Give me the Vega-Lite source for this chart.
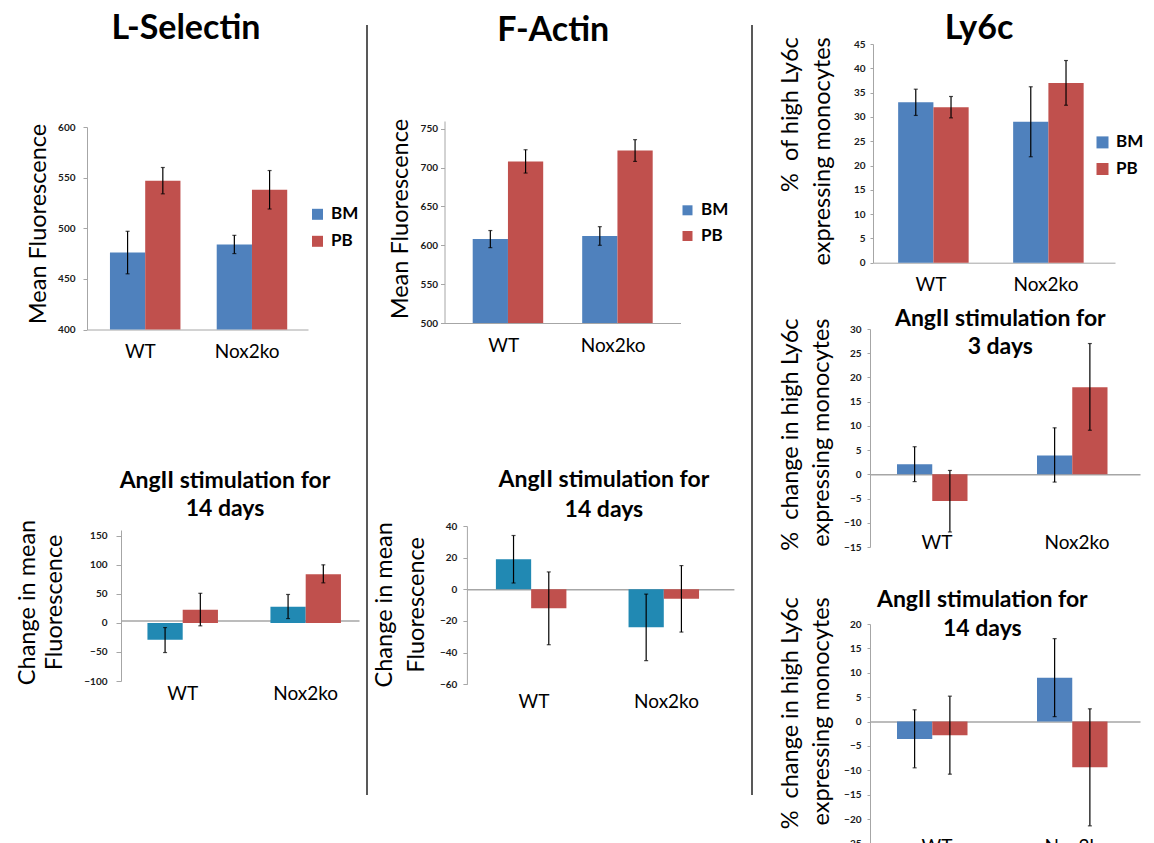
{
  "$schema": "https://vega.github.io/schema/vega-lite/v6.json",
  "background": "white",
  "padding": 0,
  "autosize": {"type": "pad"},
  "datasets": {
    "ls_top": [
      {"g": "WT", "s": "BM", "v": 476, "lo": 455, "hi": 497},
      {"g": "WT", "s": "PB", "v": 547, "lo": 534, "hi": 560},
      {"g": "Nox2ko", "s": "BM", "v": 484, "lo": 475, "hi": 493},
      {"g": "Nox2ko", "s": "PB", "v": 538, "lo": 519, "hi": 557}
    ],
    "fa_top": [
      {"g": "WT", "s": "BM", "v": 608, "lo": 597, "hi": 619},
      {"g": "WT", "s": "PB", "v": 708, "lo": 693, "hi": 723},
      {"g": "Nox2ko", "s": "BM", "v": 612, "lo": 600, "hi": 624},
      {"g": "Nox2ko", "s": "PB", "v": 722, "lo": 708, "hi": 736}
    ],
    "ly_top": [
      {"g": "WT", "s": "BM", "v": 33, "lo": 30.3, "hi": 35.7},
      {"g": "WT", "s": "PB", "v": 32, "lo": 29.8, "hi": 34.2},
      {"g": "Nox2ko", "s": "BM", "v": 29, "lo": 21.8, "hi": 36.2},
      {"g": "Nox2ko", "s": "PB", "v": 37, "lo": 32.4, "hi": 41.6}
    ],
    "ls_bot": [
      {"g": "WT", "s": "BM", "v": -29, "lo": -51, "hi": -8},
      {"g": "WT", "s": "PB", "v": 22.5, "lo": -5, "hi": 51},
      {"g": "Nox2ko", "s": "BM", "v": 28, "lo": 7.5, "hi": 49},
      {"g": "Nox2ko", "s": "PB", "v": 84, "lo": 69, "hi": 100}
    ],
    "fa_bot": [
      {"g": "WT", "s": "BM", "v": 19, "lo": 4, "hi": 34},
      {"g": "WT", "s": "PB", "v": -12, "lo": -35, "hi": 11},
      {"g": "Nox2ko", "s": "BM", "v": -24, "lo": -45, "hi": -3},
      {"g": "Nox2ko", "s": "PB", "v": -6, "lo": -27, "hi": 15}
    ],
    "ly_3d": [
      {"g": "WT", "s": "BM", "v": 2.1, "lo": -1.5, "hi": 5.7},
      {"g": "WT", "s": "PB", "v": -5.5, "lo": -11.9, "hi": 0.8},
      {"g": "Nox2ko", "s": "BM", "v": 3.9, "lo": -1.6, "hi": 9.6},
      {"g": "Nox2ko", "s": "PB", "v": 18, "lo": 9.1, "hi": 27}
    ],
    "ly_14d": [
      {"g": "WT", "s": "BM", "v": -3.6, "lo": -9.5, "hi": 2.4},
      {"g": "WT", "s": "PB", "v": -2.8, "lo": -10.8, "hi": 5.2},
      {"g": "Nox2ko", "s": "BM", "v": 9, "lo": 1, "hi": 17},
      {"g": "Nox2ko", "s": "PB", "v": -9.4, "lo": -21.4, "hi": 2.6}
    ],
    "sep": [{"p": 0.5, "a": 0, "b": 1}],
    "none": []
  },
  "config": {
    "view": {"stroke": null},
    "font": "Lato",
    "axis": {"grid": false, "labelOverlap": false, "labelFlush": false, "domainColor": "#A6A6A6", "tickColor": "#A6A6A6", "labelFont": "Lato", "titleFont": "Lato", "labelColor": "#1a1a1a", "titleColor": "#000000", "titleFontWeight": "normal", "titleFontSize": 23.5, "titleBaseline": "alphabetic"},
    "axisY": {"labelFontSize": 10, "labelFontWeight": "bold", "tickSize": 4},
    "axisX": {"labelFontSize": 19, "labelAngle": 0, "ticks": false, "tickSize": 0, "labelBaseline": "top", "labelColor": "#000000"},
    "title": {"font": "Lato", "fontWeight": "bold", "color": "#000000", "anchor": "middle", "frame": "group", "baseline": "alphabetic"},
    "legend": {"symbolType": "square", "labelFontSize": 17, "labelFontWeight": "bold", "labelFont": "Lato", "labelColor": "#000000", "symbolStrokeWidth": 0, "padding": 0, "labelOffset": 5}
  },
  "resolve": {"scale": {"color": "independent"}, "legend": {"color": "independent"}},
  "spacing": 0,
  "hconcat": [
    {"width": 14.7, "height": 1, "data": {"name": "none"}, "mark": "point"},
    {
      "vconcat": [
        {"width": 1, "height": 126.5, "data": {"name": "none"}, "mark": "point"},
        {
          "width": 221, "height": 202.5,
          "title": {"text": "L-Selectin", "fontSize": 34, "dx": -11.5, "offset": 76},
          "data": {"name": "ls_top"},
          "encoding": {
            "x": {"field": "g", "type": "nominal", "sort": ["WT", "Nox2ko"], "title": null, "scale": {"paddingInner": 0.43, "paddingOuter": 0.25, "align": 0.43}, "axis": {"labelPadding": 13}},
            "xOffset": {"field": "s", "type": "nominal", "sort": ["BM", "PB"]}
          },
          "layer": [
            {"mark": {"type": "bar"}, "encoding": {
              "y": {"field": "v", "type": "quantitative", "scale": {"domain": [400, 600]}, "title": "Mean Fluorescence", "axis": {"values": [400, 450, 500, 550, 600], "labelPadding": 8, "titleX": -42, "titleY": 96.5}},
              "y2": {"datum": 400},
              "color": {"field": "s", "type": "nominal", "scale": {"domain": ["BM", "PB"], "range": ["#4F81BD", "#C0504D"]}, "legend": {"orient": "none", "legendX": 222, "legendY": 78.8, "title": null, "symbolSize": 121, "rowPadding": 9}}
            }},
            {"mark": {"type": "rule", "color": "#000000", "strokeWidth": 1.2}, "encoding": {"y": {"field": "lo", "type": "quantitative", "title": "Mean Fluorescence", "axis": {"values": [400, 450, 500, 550, 600]}}, "y2": {"field": "hi"}}},
            {"mark": {"type": "tick", "color": "#000000", "size": 4, "thickness": 1.2}, "encoding": {"y": {"field": "lo", "type": "quantitative", "title": "Mean Fluorescence", "axis": {"values": [400, 450, 500, 550, 600]}}}},
            {"mark": {"type": "tick", "color": "#000000", "size": 4, "thickness": 1.2}, "encoding": {"y": {"field": "hi", "type": "quantitative", "title": "Mean Fluorescence", "axis": {"values": [400, 450, 500, 550, 600]}}}}
          ]
        },
        {"width": 1, "height": 200, "data": {"name": "none"}, "mark": "point"},
        {
          "width": 323, "height": 151,
          "title": {"text": ["AngII stimulation for", "14 days"], "fontSize": 23, "lineHeight": 28.3, "dx": 27.5, "offset": -1.8},
          "data": {"name": "ls_bot"},
          "encoding": {
            "x": {"field": "g", "type": "nominal", "sort": ["WT", "Nox2ko"], "title": null, "scale": {"range": [85, 323], "paddingInner": 0.427, "paddingOuter": 0.181, "align": 0.594}, "axis": {"offset": -60.4, "labelPadding": 63.4, "domainWidth": 1.5}},
            "xOffset": {"field": "s", "type": "nominal", "sort": ["BM", "PB"], "scale": {"range": [0, 70.5]}}
          },
          "layer": [
            {"mark": {"type": "bar"}, "encoding": {
              "y": {"field": "v", "type": "quantitative", "scale": {"domain": [-100, 150]}, "title": ["Change in mean", "Fluorescence"], "axis": {"offset": -85, "values": [-100, -50, 0, 50, 100, 150], "labelPadding": 9, "tickSize": 5, "titleX": -86.7, "titleY": 72, "titleLineHeight": 27, "titleAlign": "center"}},
              "color": {"field": "s", "type": "nominal", "scale": {"domain": ["BM", "PB"], "range": ["#2189B3", "#C0504D"]}, "legend": null}
            }},
            {"mark": {"type": "rule", "color": "#000000", "strokeWidth": 1.2}, "encoding": {"y": {"field": "lo", "type": "quantitative", "title": ["Change in mean", "Fluorescence"], "axis": {"values": [-100, -50, 0, 50, 100, 150]}}, "y2": {"field": "hi"}}},
            {"mark": {"type": "tick", "color": "#000000", "size": 4, "thickness": 1.2}, "encoding": {"y": {"field": "lo", "type": "quantitative", "title": ["Change in mean", "Fluorescence"], "axis": {"values": [-100, -50, 0, 50, 100, 150]}}}},
            {"mark": {"type": "tick", "color": "#000000", "size": 4, "thickness": 1.2}, "encoding": {"y": {"field": "hi", "type": "quantitative", "title": ["Change in mean", "Fluorescence"], "axis": {"values": [-100, -50, 0, 50, 100, 150]}}}}
          ]
        }
      ],
      "spacing": 0,
      "bounds": "flush",
      "center": true,
      "resolve": {"scale": {"color": "independent"}, "legend": {"color": "independent"}}
    },
    {"width": 6.3, "height": 1, "data": {"name": "none"}, "mark": "point"},
    {
      "vconcat": [
        {"width": 1, "height": 25, "data": {"name": "none"}, "mark": "point"},
        {"width": 2, "height": 770, "data": {"name": "sep"}, "mark": {"type": "rule", "color": "#222222", "strokeWidth": 1.5},
         "encoding": {"x": {"field": "p", "type": "quantitative", "scale": {"domain": [0, 1]}, "axis": null}, "y": {"field": "a", "type": "quantitative", "scale": {"domain": [0, 1]}, "axis": null}, "y2": {"field": "b"}}}
      ],
      "spacing": 0,
      "bounds": "flush"
    },
    {"width": 3.3, "height": 1, "data": {"name": "none"}, "mark": "point"},
    {
      "vconcat": [
        {"width": 1, "height": 120.7, "data": {"name": "none"}, "mark": "point"},
        {
          "width": 236, "height": 202,
          "title": {"text": "F-Actin", "fontSize": 34, "dx": -9.3, "offset": 70.5},
          "data": {"name": "fa_top"},
          "encoding": {
            "x": {"field": "g", "type": "nominal", "sort": ["WT", "Nox2ko"], "title": null, "scale": {"paddingInner": 0.434, "paddingOuter": 0.2947, "align": 0.437}, "axis": {"labelPadding": 13.6}},
            "xOffset": {"field": "s", "type": "nominal", "sort": ["BM", "PB"]}
          },
          "layer": [
            {"mark": {"type": "bar"}, "encoding": {
              "y": {"field": "v", "type": "quantitative", "scale": {"domain": [500, 750]}, "title": "Mean Fluorescence", "axis": {"values": [500, 550, 600, 650, 700, 750], "labelPadding": 3, "titleX": -37, "titleY": 97.6}},
              "y2": {"datum": 500},
              "color": {"field": "s", "type": "nominal", "scale": {"domain": ["BM", "PB"], "range": ["#4F81BD", "#C0504D"]}, "legend": {"orient": "none", "legendX": 234.5, "legendY": 80.8, "title": null, "symbolSize": 100, "rowPadding": 7.7}}
            }},
            {"mark": {"type": "rule", "color": "#000000", "strokeWidth": 1.2}, "encoding": {"y": {"field": "lo", "type": "quantitative", "title": "Mean Fluorescence", "axis": {"values": [500, 550, 600, 650, 700, 750]}}, "y2": {"field": "hi"}}},
            {"mark": {"type": "tick", "color": "#000000", "size": 4, "thickness": 1.2}, "encoding": {"y": {"field": "lo", "type": "quantitative", "title": "Mean Fluorescence", "axis": {"values": [500, 550, 600, 650, 700, 750]}}}},
            {"mark": {"type": "tick", "color": "#000000", "size": 4, "thickness": 1.2}, "encoding": {"y": {"field": "hi", "type": "quantitative", "title": "Mean Fluorescence", "axis": {"values": [500, 550, 600, 650, 700, 750]}}}}
          ]
        },
        {"width": 1, "height": 203, "data": {"name": "none"}, "mark": "point"},
        {
          "width": 342.8, "height": 158.3,
          "title": {"text": ["AngII stimulation for", "14 days"], "fontSize": 23, "lineHeight": 30, "dx": 41.4, "offset": -0.8},
          "data": {"name": "fa_bot"},
          "encoding": {
            "x": {"field": "g", "type": "nominal", "sort": ["WT", "Nox2ko"], "title": null, "scale": {"range": [75.8, 342.8], "paddingInner": 0.427, "paddingOuter": 0.22, "align": 0.497}, "axis": {"offset": -95, "labelPadding": 103, "domainWidth": 1.5}},
            "xOffset": {"field": "s", "type": "nominal", "sort": ["BM", "PB"], "scale": {"range": [0, 76]}}
          },
          "layer": [
            {"mark": {"type": "bar"}, "encoding": {
              "y": {"field": "v", "type": "quantitative", "scale": {"domain": [-60, 40]}, "title": ["Change in mean", "Fluorescence"], "axis": {"offset": -75.8, "values": [-60, -40, -20, 0, 20, 40], "labelPadding": 6, "titleX": -75, "titleY": 78.3, "titleLineHeight": 32, "titleAlign": "center"}},
              "color": {"field": "s", "type": "nominal", "scale": {"domain": ["BM", "PB"], "range": ["#2189B3", "#C0504D"]}, "legend": null}
            }},
            {"mark": {"type": "rule", "color": "#000000", "strokeWidth": 1.2}, "encoding": {"y": {"field": "lo", "type": "quantitative", "title": ["Change in mean", "Fluorescence"], "axis": {"values": [-60, -40, -20, 0, 20, 40]}}, "y2": {"field": "hi"}}},
            {"mark": {"type": "tick", "color": "#000000", "size": 4, "thickness": 1.2}, "encoding": {"y": {"field": "lo", "type": "quantitative", "title": ["Change in mean", "Fluorescence"], "axis": {"values": [-60, -40, -20, 0, 20, 40]}}}},
            {"mark": {"type": "tick", "color": "#000000", "size": 4, "thickness": 1.2}, "encoding": {"y": {"field": "hi", "type": "quantitative", "title": ["Change in mean", "Fluorescence"], "axis": {"values": [-60, -40, -20, 0, 20, 40]}}}}
          ]
        }
      ],
      "spacing": 0,
      "bounds": "flush",
      "center": true,
      "resolve": {"scale": {"color": "independent"}, "legend": {"color": "independent"}}
    },
    {"width": 17, "height": 1, "data": {"name": "none"}, "mark": "point"},
    {
      "vconcat": [
        {"width": 1, "height": 25, "data": {"name": "none"}, "mark": "point"},
        {"width": 2, "height": 770, "data": {"name": "sep"}, "mark": {"type": "rule", "color": "#222222", "strokeWidth": 1.5},
         "encoding": {"x": {"field": "p", "type": "quantitative", "scale": {"domain": [0, 1]}, "axis": null}, "y": {"field": "a", "type": "quantitative", "scale": {"domain": [0, 1]}, "axis": null}, "y2": {"field": "b"}}}
      ],
      "spacing": 0,
      "bounds": "flush"
    },
    {"width": 23.7, "height": 1, "data": {"name": "none"}, "mark": "point"},
    {
      "vconcat": [
        {"width": 1, "height": 43.3, "data": {"name": "none"}, "mark": "point"},
        {
          "width": 242, "height": 218.7,
          "title": {"text": "Ly6c", "fontSize": 34, "dx": -15, "offset": -9},
          "data": {"name": "ly_top"},
          "encoding": {
            "x": {"field": "g", "type": "nominal", "sort": ["WT", "Nox2ko"], "title": null, "scale": {"paddingInner": 0.429, "paddingOuter": 0.2667, "align": 0.41}, "axis": {"labelPadding": 13}},
            "xOffset": {"field": "s", "type": "nominal", "sort": ["BM", "PB"]}
          },
          "layer": [
            {"mark": {"type": "bar"}, "encoding": {
              "y": {"field": "v", "type": "quantitative", "scale": {"domain": [0, 45]}, "title": ["% \u00a0of high Ly6c", "expressing monocytes"], "axis": {"values": [0, 5, 10, 15, 20, 25, 30, 35, 40, 45], "labelPadding": 5, "tickSize": 3, "titleX": -75.3, "titleY": -7.3, "titleAlign": "right", "titleLineHeight": 32}},
              "color": {"field": "s", "type": "nominal", "scale": {"domain": ["BM", "PB"], "range": ["#4F81BD", "#C0504D"]}, "legend": {"orient": "none", "legendX": 221, "legendY": 89.9, "title": null, "symbolSize": 144, "rowPadding": 8.6}}
            }},
            {"mark": {"type": "rule", "color": "#000000", "strokeWidth": 1.2}, "encoding": {"y": {"field": "lo", "type": "quantitative", "title": ["% \u00a0of high Ly6c", "expressing monocytes"], "axis": {"values": [0, 5, 10, 15, 20, 25, 30, 35, 40, 45]}}, "y2": {"field": "hi"}}},
            {"mark": {"type": "tick", "color": "#000000", "size": 4, "thickness": 1.2}, "encoding": {"y": {"field": "lo", "type": "quantitative", "title": ["% \u00a0of high Ly6c", "expressing monocytes"], "axis": {"values": [0, 5, 10, 15, 20, 25, 30, 35, 40, 45]}}}},
            {"mark": {"type": "tick", "color": "#000000", "size": 4, "thickness": 1.2}, "encoding": {"y": {"field": "hi", "type": "quantitative", "title": ["% \u00a0of high Ly6c", "expressing monocytes"], "axis": {"values": [0, 5, 10, 15, 20, 25, 30, 35, 40, 45]}}}}
          ]
        },
        {"width": 1, "height": 66, "data": {"name": "none"}, "mark": "point"},
        {
          "width": 292, "height": 218,
          "title": {"text": ["AngII stimulation for", "3 days"], "fontSize": 23, "lineHeight": 28.3, "dx": 6.3, "offset": -40.8},
          "data": {"name": "ly_3d"},
          "encoding": {
            "x": {"field": "g", "type": "nominal", "sort": ["WT", "Nox2ko"], "title": null, "scale": {"range": [22, 292], "paddingInner": 0.4286, "paddingOuter": 0.1786, "align": 0.54}, "axis": {"offset": -72.7, "labelPadding": 59, "domainWidth": 1.5}},
            "xOffset": {"field": "s", "type": "nominal", "sort": ["BM", "PB"], "scale": {"range": [0, 80]}}
          },
          "layer": [
            {"mark": {"type": "bar"}, "encoding": {
              "y": {"field": "v", "type": "quantitative", "scale": {"domain": [-15, 30]}, "title": ["% \u00a0change in high Ly6c", "expressing monocytes"], "axis": {"offset": -22, "values": [-15, -10, -5, 0, 5, 10, 15, 20, 25, 30], "labelPadding": 6, "tickSize": 3, "titleX": -73, "titleY": -11, "titleAlign": "right", "titleLineHeight": 31.7}},
              "color": {"field": "s", "type": "nominal", "scale": {"domain": ["BM", "PB"], "range": ["#4F81BD", "#C0504D"]}, "legend": null}
            }},
            {"mark": {"type": "rule", "color": "#000000", "strokeWidth": 1.2}, "encoding": {"y": {"field": "lo", "type": "quantitative", "title": ["% \u00a0change in high Ly6c", "expressing monocytes"], "axis": {"values": [-15, -10, -5, 0, 5, 10, 15, 20, 25, 30]}}, "y2": {"field": "hi"}}},
            {"mark": {"type": "tick", "color": "#000000", "size": 4, "thickness": 1.2}, "encoding": {"y": {"field": "lo", "type": "quantitative", "title": ["% \u00a0change in high Ly6c", "expressing monocytes"], "axis": {"values": [-15, -10, -5, 0, 5, 10, 15, 20, 25, 30]}}}},
            {"mark": {"type": "tick", "color": "#000000", "size": 4, "thickness": 1.2}, "encoding": {"y": {"field": "hi", "type": "quantitative", "title": ["% \u00a0change in high Ly6c", "expressing monocytes"], "axis": {"values": [-15, -10, -5, 0, 5, 10, 15, 20, 25, 30]}}}}
          ]
        },
        {"width": 1, "height": 76.3, "data": {"name": "none"}, "mark": "point"},
        {
          "width": 292, "height": 219.4,
          "title": {"text": ["AngII stimulation for", "14 days"], "fontSize": 23, "lineHeight": 29, "dx": -11.7, "offset": -44.4},
          "data": {"name": "ly_14d"},
          "encoding": {
            "x": {"field": "g", "type": "nominal", "sort": ["WT", "Nox2ko"], "title": null, "scale": {"range": [22, 292], "paddingInner": 0.4286, "paddingOuter": 0.1786, "align": 0.54}, "axis": {"offset": -121.9, "labelPadding": 115.9, "domainWidth": 1.5}},
            "xOffset": {"field": "s", "type": "nominal", "sort": ["BM", "PB"], "scale": {"range": [0, 80]}}
          },
          "layer": [
            {"mark": {"type": "bar"}, "encoding": {
              "y": {"field": "v", "type": "quantitative", "scale": {"domain": [-25, 20]}, "title": ["% \u00a0change in high Ly6c", "expressing monocytes"], "axis": {"offset": -22, "values": [-25, -20, -15, -10, -5, 0, 5, 10, 15, 20], "labelPadding": 6, "tickSize": 3, "titleX": -73, "titleY": -27.3, "titleAlign": "right", "titleLineHeight": 31.7}},
              "color": {"field": "s", "type": "nominal", "scale": {"domain": ["BM", "PB"], "range": ["#4F81BD", "#C0504D"]}, "legend": null}
            }},
            {"mark": {"type": "rule", "color": "#000000", "strokeWidth": 1.2}, "encoding": {"y": {"field": "lo", "type": "quantitative", "title": ["% \u00a0change in high Ly6c", "expressing monocytes"], "axis": {"values": [-25, -20, -15, -10, -5, 0, 5, 10, 15, 20]}}, "y2": {"field": "hi"}}},
            {"mark": {"type": "tick", "color": "#000000", "size": 4, "thickness": 1.2}, "encoding": {"y": {"field": "lo", "type": "quantitative", "title": ["% \u00a0change in high Ly6c", "expressing monocytes"], "axis": {"values": [-25, -20, -15, -10, -5, 0, 5, 10, 15, 20]}}}},
            {"mark": {"type": "tick", "color": "#000000", "size": 4, "thickness": 1.2}, "encoding": {"y": {"field": "hi", "type": "quantitative", "title": ["% \u00a0change in high Ly6c", "expressing monocytes"], "axis": {"values": [-25, -20, -15, -10, -5, 0, 5, 10, 15, 20]}}}}
          ]
        }
      ],
      "spacing": 0,
      "bounds": "flush",
      "center": true,
      "resolve": {"scale": {"color": "independent"}, "legend": {"color": "independent"}}
    }
  ]
}
